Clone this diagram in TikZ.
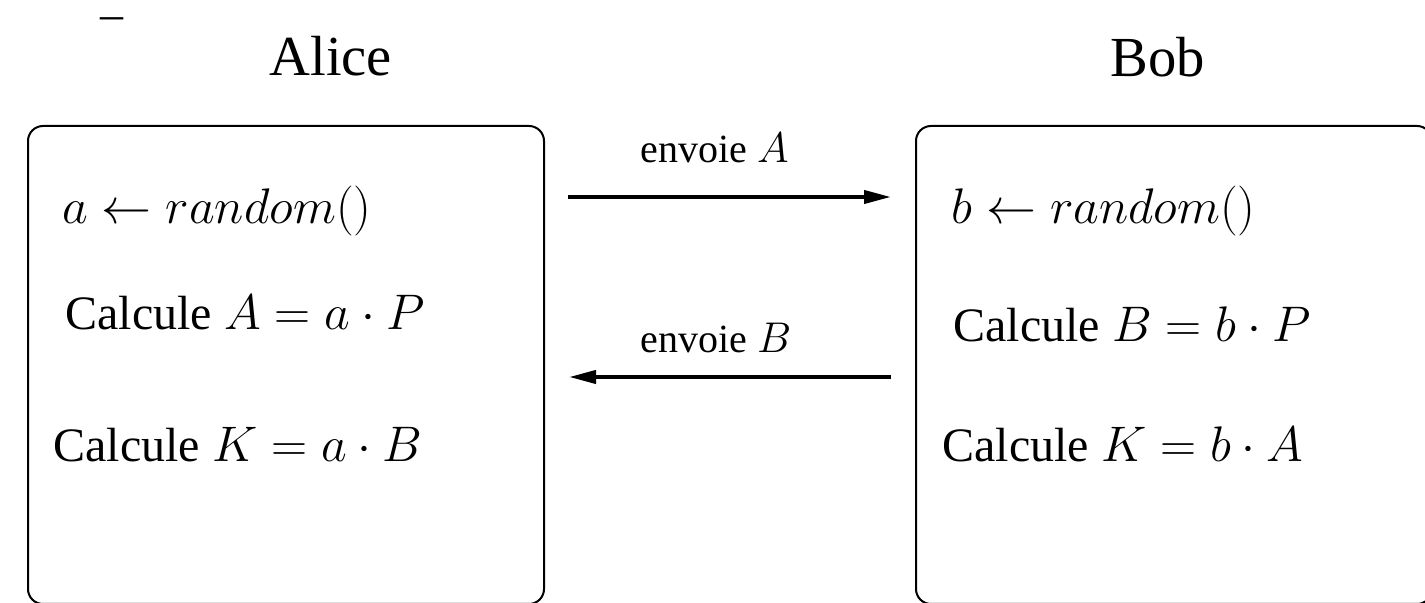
\RequirePackage{fix-cm}
\documentclass[tikz,border=0pt]{standalone}
\usepackage{fontspec}
\setmainfont{Liberation Serif}
\usetikzlibrary{arrows.meta}
\newcommand\mth[1]{{\fontsize{25}{28}\selectfont$#1$}}
\newcommand\smth[1]{{\fontsize{21.5}{24}\selectfont$#1$}}
\tikzset{
  party/.style={draw, line width=1pt, rounded corners=7.5pt, minimum width=258pt, minimum height=239pt, inner sep=0pt},
  txt/.style={anchor=base west, inner sep=0pt, font=\fontsize{24}{28}\selectfont},
  title/.style={anchor=base west, inner sep=0pt, font=\fontsize{28.3}{32}\selectfont},
  lbl/.style={anchor=base west, inner sep=0pt, font=\fontsize{20}{24}\selectfont},
  msg/.style={line width=2pt, -{Triangle[length=13.5pt,width=6.5pt]}}
}
\begin{document}
\begin{tikzpicture}[x=0.5pt,y=-0.5pt]
\useasboundingbox (0,0) rectangle (1425,603);
\node[txt, font=\fontsize{23}{26}\selectfont] (dash) at (100,30) {\textendash};
\node[title] (alice) at (269,76) {Alice};
\node[title] (bob) at (1110,77) {Bob};
\node[party] (alicebox) at (286,365) {};
\node[party] (bobbox) at (1174,365) {};
\node[txt] (a1) at (62,224) {\mth{a \leftarrow random()}};
\node[txt] (a2) at (65,330) {Calcule \mth{A = a \cdot P}};
\node[txt] (a3) at (53,462) {Calcule \mth{K = a \cdot B}};
\node[txt] (b1) at (951,224) {\mth{b \leftarrow random()}};
\node[txt] (b2) at (953,342) {Calcule \mth{B = b \cdot P}};
\node[txt] (b3) at (942,462) {Calcule \mth{K = b \cdot A}};
\node[lbl] (lA) at (640,163) {envoie \smth{A}};
\node[lbl] (lB) at (640,353) {envoie \smth{B}};
\draw[msg] ([shift={(23,-168)}]alicebox.east) -- ([shift={(-24,-168)}]bobbox.west);
\draw[msg] ([shift={(-24,12)}]bobbox.west) -- ([shift={(24,12)}]alicebox.east);
\end{tikzpicture}
\end{document}
